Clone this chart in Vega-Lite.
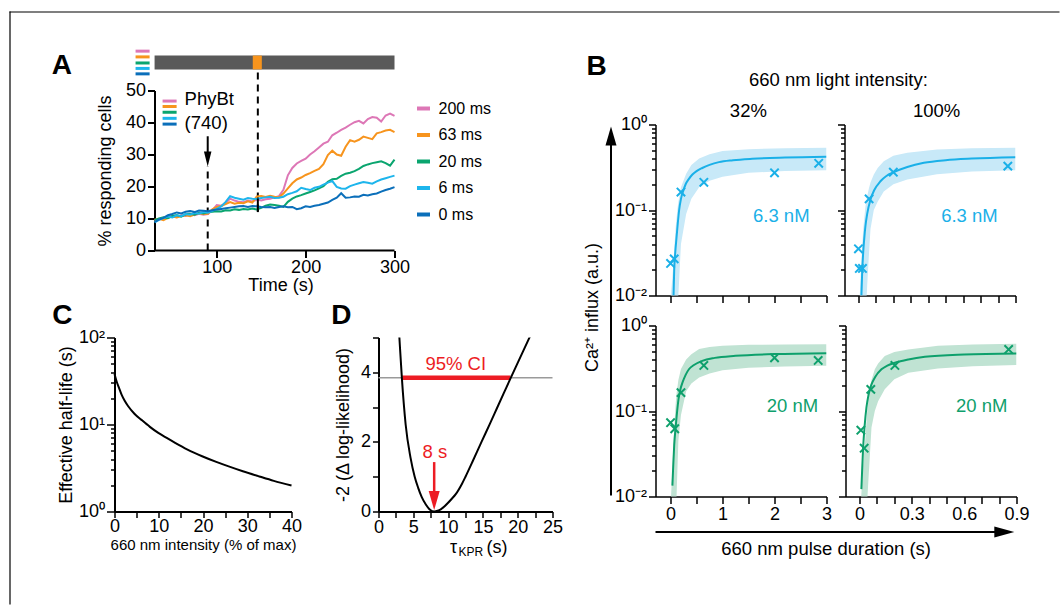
{
"$schema": "https://vega.github.io/schema/vega-lite/v6.json",
"padding": {"left": 8.5, "top": 10.5, "right": 0, "bottom": 0},
"config": {
  "font": "Liberation Sans",
  "view": {"stroke": null},
  "axis": {"grid": false, "domainColor": "black", "domainWidth": 1.5, "tickColor": "black", "tickWidth": 1.5, "labelColor": "black", "titleColor": "black", "labelFontSize": 18, "titleFontSize": 18, "titleFontWeight": "normal", "labelFlush": false, "labelOverlap": false, "labelPadding": 2, "tickSize": 6, "labelFont": "Liberation Sans", "titleFont": "Liberation Sans"},
  "legend": {"labelFont": "Liberation Sans"},
  "text": {"font": "Liberation Sans"}
},
"datasets": {
  "ser": [
{"s":"200 ms","t":30,"v":9.3},{"s":"200 ms","t":35,"v":9.8},{"s":"200 ms","t":40,"v":10.2},{"s":"200 ms","t":45,"v":10.5},{"s":"200 ms","t":50,"v":10.9},{"s":"200 ms","t":55,"v":10.4},{"s":"200 ms","t":60,"v":11.0},{"s":"200 ms","t":65,"v":10.8},{"s":"200 ms","t":70,"v":11.3},{"s":"200 ms","t":75,"v":11.0},{"s":"200 ms","t":80,"v":11.5},{"s":"200 ms","t":85,"v":11.2},{"s":"200 ms","t":90,"v":11.4},{"s":"200 ms","t":95,"v":12.6},{"s":"200 ms","t":100,"v":14.2},{"s":"200 ms","t":105,"v":14.0},{"s":"200 ms","t":110,"v":14.8},{"s":"200 ms","t":115,"v":16.2},{"s":"200 ms","t":120,"v":15.6},{"s":"200 ms","t":125,"v":15.2},{"s":"200 ms","t":130,"v":15.1},{"s":"200 ms","t":135,"v":15.6},{"s":"200 ms","t":140,"v":15.3},{"s":"200 ms","t":145,"v":15.9},{"s":"200 ms","t":150,"v":15.6},{"s":"200 ms","t":155,"v":16.0},{"s":"200 ms","t":160,"v":16.2},{"s":"200 ms","t":165,"v":16.6},{"s":"200 ms","t":170,"v":17.0},{"s":"200 ms","t":175,"v":19.0},{"s":"200 ms","t":180,"v":23.5},{"s":"200 ms","t":185,"v":25.8},{"s":"200 ms","t":190,"v":27.2},{"s":"200 ms","t":195,"v":28.0},{"s":"200 ms","t":200,"v":28.7},{"s":"200 ms","t":205,"v":30.0},{"s":"200 ms","t":210,"v":31.0},{"s":"200 ms","t":215,"v":32.2},{"s":"200 ms","t":220,"v":33.4},{"s":"200 ms","t":225,"v":34.0},{"s":"200 ms","t":230,"v":36.0},{"s":"200 ms","t":235,"v":36.8},{"s":"200 ms","t":240,"v":37.7},{"s":"200 ms","t":245,"v":38.4},{"s":"200 ms","t":250,"v":39.3},{"s":"200 ms","t":255,"v":40.1},{"s":"200 ms","t":260,"v":40.5},{"s":"200 ms","t":265,"v":39.7},{"s":"200 ms","t":270,"v":41.1},{"s":"200 ms","t":275,"v":41.7},{"s":"200 ms","t":280,"v":41.5},{"s":"200 ms","t":285,"v":40.3},{"s":"200 ms","t":290,"v":42.2},{"s":"200 ms","t":295,"v":42.8},{"s":"200 ms","t":300,"v":42.1},
{"s":"63 ms","t":30,"v":9.6},{"s":"63 ms","t":35,"v":9.9},{"s":"63 ms","t":40,"v":9.5},{"s":"63 ms","t":45,"v":10.2},{"s":"63 ms","t":50,"v":10.6},{"s":"63 ms","t":55,"v":10.3},{"s":"63 ms","t":60,"v":10.8},{"s":"63 ms","t":65,"v":11.0},{"s":"63 ms","t":70,"v":10.7},{"s":"63 ms","t":75,"v":11.2},{"s":"63 ms","t":80,"v":11.6},{"s":"63 ms","t":85,"v":11.4},{"s":"63 ms","t":90,"v":11.5},{"s":"63 ms","t":95,"v":12.9},{"s":"63 ms","t":100,"v":13.6},{"s":"63 ms","t":105,"v":13.9},{"s":"63 ms","t":110,"v":14.5},{"s":"63 ms","t":115,"v":15.1},{"s":"63 ms","t":120,"v":14.6},{"s":"63 ms","t":125,"v":14.9},{"s":"63 ms","t":130,"v":14.8},{"s":"63 ms","t":135,"v":15.4},{"s":"63 ms","t":140,"v":15.0},{"s":"63 ms","t":145,"v":16.9},{"s":"63 ms","t":150,"v":17.0},{"s":"63 ms","t":155,"v":16.7},{"s":"63 ms","t":160,"v":17.1},{"s":"63 ms","t":165,"v":16.8},{"s":"63 ms","t":170,"v":16.6},{"s":"63 ms","t":175,"v":17.8},{"s":"63 ms","t":180,"v":19.4},{"s":"63 ms","t":185,"v":21.0},{"s":"63 ms","t":190,"v":22.2},{"s":"63 ms","t":195,"v":22.8},{"s":"63 ms","t":200,"v":23.6},{"s":"63 ms","t":205,"v":24.2},{"s":"63 ms","t":210,"v":24.9},{"s":"63 ms","t":215,"v":25.5},{"s":"63 ms","t":220,"v":27.0},{"s":"63 ms","t":225,"v":29.8},{"s":"63 ms","t":230,"v":31.2},{"s":"63 ms","t":235,"v":30.0},{"s":"63 ms","t":240,"v":29.6},{"s":"63 ms","t":245,"v":32.4},{"s":"63 ms","t":250,"v":34.5},{"s":"63 ms","t":255,"v":34.0},{"s":"63 ms","t":260,"v":34.6},{"s":"63 ms","t":265,"v":35.6},{"s":"63 ms","t":270,"v":35.2},{"s":"63 ms","t":275,"v":34.8},{"s":"63 ms","t":280,"v":36.6},{"s":"63 ms","t":285,"v":37.0},{"s":"63 ms","t":290,"v":37.5},{"s":"63 ms","t":295,"v":37.7},{"s":"63 ms","t":300,"v":37.0},
{"s":"20 ms","t":30,"v":9.5},{"s":"20 ms","t":35,"v":10.0},{"s":"20 ms","t":40,"v":10.4},{"s":"20 ms","t":45,"v":10.1},{"s":"20 ms","t":50,"v":10.8},{"s":"20 ms","t":55,"v":11.1},{"s":"20 ms","t":60,"v":10.6},{"s":"20 ms","t":65,"v":11.3},{"s":"20 ms","t":70,"v":11.5},{"s":"20 ms","t":75,"v":11.2},{"s":"20 ms","t":80,"v":11.8},{"s":"20 ms","t":85,"v":11.6},{"s":"20 ms","t":90,"v":12.0},{"s":"20 ms","t":95,"v":12.1},{"s":"20 ms","t":100,"v":12.3},{"s":"20 ms","t":105,"v":12.2},{"s":"20 ms","t":110,"v":12.6},{"s":"20 ms","t":115,"v":12.5},{"s":"20 ms","t":120,"v":12.9},{"s":"20 ms","t":125,"v":12.7},{"s":"20 ms","t":130,"v":13.0},{"s":"20 ms","t":135,"v":12.8},{"s":"20 ms","t":140,"v":13.1},{"s":"20 ms","t":145,"v":12.8},{"s":"20 ms","t":150,"v":13.3},{"s":"20 ms","t":155,"v":14.0},{"s":"20 ms","t":160,"v":14.4},{"s":"20 ms","t":165,"v":14.2},{"s":"20 ms","t":170,"v":14.0},{"s":"20 ms","t":175,"v":13.6},{"s":"20 ms","t":180,"v":15.2},{"s":"20 ms","t":185,"v":16.2},{"s":"20 ms","t":190,"v":16.9},{"s":"20 ms","t":195,"v":17.3},{"s":"20 ms","t":200,"v":17.8},{"s":"20 ms","t":205,"v":18.3},{"s":"20 ms","t":210,"v":18.8},{"s":"20 ms","t":215,"v":19.4},{"s":"20 ms","t":220,"v":20.1},{"s":"20 ms","t":225,"v":21.5},{"s":"20 ms","t":230,"v":22.3},{"s":"20 ms","t":235,"v":22.4},{"s":"20 ms","t":240,"v":23.3},{"s":"20 ms","t":245,"v":24.0},{"s":"20 ms","t":250,"v":24.3},{"s":"20 ms","t":255,"v":24.8},{"s":"20 ms","t":260,"v":25.5},{"s":"20 ms","t":265,"v":26.4},{"s":"20 ms","t":270,"v":26.9},{"s":"20 ms","t":275,"v":27.3},{"s":"20 ms","t":280,"v":27.6},{"s":"20 ms","t":285,"v":27.9},{"s":"20 ms","t":290,"v":27.3},{"s":"20 ms","t":295,"v":26.5},{"s":"20 ms","t":300,"v":28.4},
{"s":"6 ms","t":30,"v":8.8},{"s":"6 ms","t":35,"v":9.6},{"s":"6 ms","t":40,"v":10.1},{"s":"6 ms","t":45,"v":10.6},{"s":"6 ms","t":50,"v":10.3},{"s":"6 ms","t":55,"v":11.0},{"s":"6 ms","t":60,"v":10.7},{"s":"6 ms","t":65,"v":11.4},{"s":"6 ms","t":70,"v":11.2},{"s":"6 ms","t":75,"v":11.7},{"s":"6 ms","t":80,"v":11.5},{"s":"6 ms","t":85,"v":12.0},{"s":"6 ms","t":90,"v":11.8},{"s":"6 ms","t":95,"v":12.4},{"s":"6 ms","t":100,"v":13.0},{"s":"6 ms","t":105,"v":13.8},{"s":"6 ms","t":110,"v":15.2},{"s":"6 ms","t":115,"v":17.0},{"s":"6 ms","t":120,"v":16.5},{"s":"6 ms","t":125,"v":16.2},{"s":"6 ms","t":130,"v":15.9},{"s":"6 ms","t":135,"v":16.4},{"s":"6 ms","t":140,"v":16.2},{"s":"6 ms","t":145,"v":16.1},{"s":"6 ms","t":150,"v":16.4},{"s":"6 ms","t":155,"v":16.6},{"s":"6 ms","t":160,"v":16.8},{"s":"6 ms","t":165,"v":16.4},{"s":"6 ms","t":170,"v":16.5},{"s":"6 ms","t":175,"v":16.8},{"s":"6 ms","t":180,"v":17.6},{"s":"6 ms","t":185,"v":18.0},{"s":"6 ms","t":190,"v":18.5},{"s":"6 ms","t":195,"v":19.6},{"s":"6 ms","t":200,"v":19.2},{"s":"6 ms","t":205,"v":18.9},{"s":"6 ms","t":210,"v":19.6},{"s":"6 ms","t":215,"v":19.9},{"s":"6 ms","t":220,"v":20.6},{"s":"6 ms","t":225,"v":21.2},{"s":"6 ms","t":230,"v":21.7},{"s":"6 ms","t":235,"v":19.9},{"s":"6 ms","t":240,"v":19.4},{"s":"6 ms","t":245,"v":19.3},{"s":"6 ms","t":250,"v":20.1},{"s":"6 ms","t":255,"v":20.6},{"s":"6 ms","t":260,"v":21.0},{"s":"6 ms","t":265,"v":21.4},{"s":"6 ms","t":270,"v":21.2},{"s":"6 ms","t":275,"v":20.9},{"s":"6 ms","t":280,"v":21.6},{"s":"6 ms","t":285,"v":22.2},{"s":"6 ms","t":290,"v":22.6},{"s":"6 ms","t":295,"v":23.0},{"s":"6 ms","t":300,"v":23.4},
{"s":"0 ms","t":30,"v":8.9},{"s":"0 ms","t":35,"v":9.7},{"s":"0 ms","t":40,"v":10.2},{"s":"0 ms","t":45,"v":11.0},{"s":"0 ms","t":50,"v":11.4},{"s":"0 ms","t":55,"v":11.9},{"s":"0 ms","t":60,"v":11.6},{"s":"0 ms","t":65,"v":12.1},{"s":"0 ms","t":70,"v":12.3},{"s":"0 ms","t":75,"v":12.0},{"s":"0 ms","t":80,"v":12.5},{"s":"0 ms","t":85,"v":12.4},{"s":"0 ms","t":90,"v":12.3},{"s":"0 ms","t":95,"v":12.6},{"s":"0 ms","t":100,"v":12.8},{"s":"0 ms","t":105,"v":13.0},{"s":"0 ms","t":110,"v":13.2},{"s":"0 ms","t":115,"v":13.4},{"s":"0 ms","t":120,"v":13.6},{"s":"0 ms","t":125,"v":13.8},{"s":"0 ms","t":130,"v":13.9},{"s":"0 ms","t":135,"v":13.6},{"s":"0 ms","t":140,"v":13.9},{"s":"0 ms","t":145,"v":13.8},{"s":"0 ms","t":150,"v":13.6},{"s":"0 ms","t":155,"v":13.5},{"s":"0 ms","t":160,"v":13.6},{"s":"0 ms","t":165,"v":13.3},{"s":"0 ms","t":170,"v":13.6},{"s":"0 ms","t":175,"v":13.8},{"s":"0 ms","t":180,"v":13.5},{"s":"0 ms","t":185,"v":13.6},{"s":"0 ms","t":190,"v":12.9},{"s":"0 ms","t":195,"v":13.2},{"s":"0 ms","t":200,"v":13.8},{"s":"0 ms","t":205,"v":13.6},{"s":"0 ms","t":210,"v":14.0},{"s":"0 ms","t":215,"v":14.2},{"s":"0 ms","t":220,"v":14.6},{"s":"0 ms","t":225,"v":15.0},{"s":"0 ms","t":230,"v":15.8},{"s":"0 ms","t":235,"v":16.5},{"s":"0 ms","t":240,"v":17.9},{"s":"0 ms","t":245,"v":16.5},{"s":"0 ms","t":250,"v":16.6},{"s":"0 ms","t":255,"v":16.9},{"s":"0 ms","t":260,"v":16.8},{"s":"0 ms","t":265,"v":17.4},{"s":"0 ms","t":270,"v":17.2},{"s":"0 ms","t":275,"v":17.6},{"s":"0 ms","t":280,"v":17.8},{"s":"0 ms","t":285,"v":18.4},{"s":"0 ms","t":290,"v":18.9},{"s":"0 ms","t":295,"v":19.3},{"s":"0 ms","t":300,"v":19.8}
  ],
  "stk": [
{"s":"200 ms","a":8.6,"b":24.4,"v":62.3},{"s":"63 ms","a":8.6,"b":24.4,"v":60.5},{"s":"20 ms","a":8.6,"b":24.4,"v":58.6},{"s":"6 ms","a":8.6,"b":24.4,"v":56.9},{"s":"0 ms","a":8.6,"b":24.4,"v":55.2},
{"s":"200 ms","a":39,"b":54.8,"v":46.7},{"s":"63 ms","a":39,"b":54.8,"v":45.0},{"s":"20 ms","a":39,"b":54.8,"v":43.2},{"s":"6 ms","a":39,"b":54.8,"v":41.3},{"s":"0 ms","a":39,"b":54.8,"v":39.5}
  ],
  "bpts": [
{"p":"TL","x":0.0,"y":0.0237},{"p":"TL","x":0.07,"y":0.0268},{"p":"TL","x":0.2,"y":0.162},{"p":"TL","x":0.64,"y":0.211},{"p":"TL","x":2.0,"y":0.272},{"p":"TL","x":2.85,"y":0.352},
{"p":"TR","x":0.0,"y":0.0352},{"p":"TR","x":0.005,"y":0.0207},{"p":"TR","x":0.023,"y":0.0207},{"p":"TR","x":0.061,"y":0.135},{"p":"TR","x":0.2,"y":0.277},{"p":"TR","x":0.856,"y":0.326},
{"p":"BL","x":0.0,"y":0.073},{"p":"BL","x":0.08,"y":0.062},{"p":"BL","x":0.2,"y":0.164},{"p":"BL","x":0.64,"y":0.341},{"p":"BL","x":2.0,"y":0.419},{"p":"BL","x":2.84,"y":0.39},
{"p":"BR","x":0.008,"y":0.0596},{"p":"BR","x":0.027,"y":0.0367},{"p":"BR","x":0.065,"y":0.179},{"p":"BR","x":0.203,"y":0.341},{"p":"BR","x":0.855,"y":0.525}
  ],
  "bfit": [
{"p":"TL","x":0.057,"y":0.01},{"p":"TL","x":0.07,"y":0.02},{"p":"TL","x":0.085,"y":0.029},{"p":"TL","x":0.1,"y":0.038},{"p":"TL","x":0.134,"y":0.065},{"p":"TL","x":0.165,"y":0.1},{"p":"TL","x":0.2,"y":0.135},{"p":"TL","x":0.25,"y":0.172},{"p":"TL","x":0.29,"y":0.2},{"p":"TL","x":0.35,"y":0.23},{"p":"TL","x":0.42,"y":0.26},{"p":"TL","x":0.5,"y":0.285},{"p":"TL","x":0.61,"y":0.31},{"p":"TL","x":0.75,"y":0.337},{"p":"TL","x":0.93,"y":0.363},{"p":"TL","x":1.2,"y":0.382},{"p":"TL","x":1.57,"y":0.397},{"p":"TL","x":2.2,"y":0.41},{"p":"TL","x":3.0,"y":0.419},
{"p":"TR","x":0.017,"y":0.01},{"p":"TR","x":0.021,"y":0.018},{"p":"TR","x":0.027,"y":0.0316},{"p":"TR","x":0.033,"y":0.046},{"p":"TR","x":0.04,"y":0.065},{"p":"TR","x":0.05,"y":0.09},{"p":"TR","x":0.069,"y":0.133},{"p":"TR","x":0.09,"y":0.17},{"p":"TR","x":0.126,"y":0.217},{"p":"TR","x":0.16,"y":0.25},{"p":"TR","x":0.203,"y":0.277},{"p":"TR","x":0.28,"y":0.318},{"p":"TR","x":0.375,"y":0.356},{"p":"TR","x":0.5,"y":0.383},{"p":"TR","x":0.65,"y":0.4},{"p":"TR","x":0.9,"y":0.415},
{"p":"BL","x":0.035,"y":0.0134},{"p":"BL","x":0.05,"y":0.022},{"p":"BL","x":0.07,"y":0.04},{"p":"BL","x":0.1,"y":0.067},{"p":"BL","x":0.153,"y":0.138},{"p":"BL","x":0.19,"y":0.18},{"p":"BL","x":0.23,"y":0.216},{"p":"BL","x":0.29,"y":0.265},{"p":"BL","x":0.357,"y":0.31},{"p":"BL","x":0.45,"y":0.345},{"p":"BL","x":0.61,"y":0.386},{"p":"BL","x":0.85,"y":0.418},{"p":"BL","x":1.25,"y":0.442},{"p":"BL","x":2.0,"y":0.463},{"p":"BL","x":3.0,"y":0.475},
{"p":"BR","x":0.011,"y":0.0122},{"p":"BR","x":0.016,"y":0.022},{"p":"BR","x":0.021,"y":0.037},{"p":"BR","x":0.03,"y":0.068},{"p":"BR","x":0.04,"y":0.11},{"p":"BR","x":0.052,"y":0.155},{"p":"BR","x":0.069,"y":0.205},{"p":"BR","x":0.09,"y":0.25},{"p":"BR","x":0.126,"y":0.307},{"p":"BR","x":0.16,"y":0.34},{"p":"BR","x":0.203,"y":0.366},{"p":"BR","x":0.28,"y":0.4},{"p":"BR","x":0.375,"y":0.43},{"p":"BR","x":0.6,"y":0.458},{"p":"BR","x":0.9,"y":0.471}
  ],
  "bband": [
{"p":"TL","x":0.0,"lo":0.0005,"hi":0.0095},{"p":"TL","x":0.03,"lo":0.0008,"hi":0.015},{"p":"TL","x":0.05,"lo":0.001,"hi":0.022},{"p":"TL","x":0.07,"lo":0.0015,"hi":0.035},{"p":"TL","x":0.1,"lo":0.003,"hi":0.065},{"p":"TL","x":0.13,"lo":0.006,"hi":0.1},{"p":"TL","x":0.15,"lo":0.01,"hi":0.125},{"p":"TL","x":0.2,"lo":0.04,"hi":0.185},{"p":"TL","x":0.3,"lo":0.09,"hi":0.265},{"p":"TL","x":0.4,"lo":0.135,"hi":0.335},{"p":"TL","x":0.55,"lo":0.185,"hi":0.4},{"p":"TL","x":0.75,"lo":0.22,"hi":0.45},{"p":"TL","x":1.0,"lo":0.245,"hi":0.49},{"p":"TL","x":1.5,"lo":0.272,"hi":0.515},{"p":"TL","x":2.2,"lo":0.285,"hi":0.528},{"p":"TL","x":3.0,"lo":0.292,"hi":0.535},
{"p":"TR","x":0.0,"lo":0.0005,"hi":0.006},{"p":"TR","x":0.0075,"lo":0.0007,"hi":0.01},{"p":"TR","x":0.015,"lo":0.001,"hi":0.022},{"p":"TR","x":0.027,"lo":0.002,"hi":0.059},{"p":"TR","x":0.04,"lo":0.005,"hi":0.11},{"p":"TR","x":0.05,"lo":0.013,"hi":0.145},{"p":"TR","x":0.06,"lo":0.03,"hi":0.18},{"p":"TR","x":0.069,"lo":0.06,"hi":0.21},{"p":"TR","x":0.088,"lo":0.1,"hi":0.26},{"p":"TR","x":0.11,"lo":0.125,"hi":0.31},{"p":"TR","x":0.145,"lo":0.165,"hi":0.372},{"p":"TR","x":0.2,"lo":0.2,"hi":0.43},{"p":"TR","x":0.28,"lo":0.227,"hi":0.466},{"p":"TR","x":0.45,"lo":0.262,"hi":0.51},{"p":"TR","x":0.65,"lo":0.282,"hi":0.527},{"p":"TR","x":0.9,"lo":0.292,"hi":0.533},
{"p":"BL","x":0.0,"lo":0.0005,"hi":0.008},{"p":"BL","x":0.03,"lo":0.0008,"hi":0.018},{"p":"BL","x":0.05,"lo":0.001,"hi":0.035},{"p":"BL","x":0.07,"lo":0.002,"hi":0.065},{"p":"BL","x":0.1,"lo":0.004,"hi":0.126},{"p":"BL","x":0.115,"lo":0.01,"hi":0.16},{"p":"BL","x":0.15,"lo":0.045,"hi":0.23},{"p":"BL","x":0.2,"lo":0.09,"hi":0.31},{"p":"BL","x":0.3,"lo":0.17,"hi":0.4},{"p":"BL","x":0.4,"lo":0.21,"hi":0.46},{"p":"BL","x":0.55,"lo":0.247,"hi":0.53},{"p":"BL","x":0.75,"lo":0.275,"hi":0.56},{"p":"BL","x":1.0,"lo":0.3,"hi":0.58},{"p":"BL","x":1.5,"lo":0.32,"hi":0.595},{"p":"BL","x":2.2,"lo":0.332,"hi":0.6},{"p":"BL","x":3.0,"lo":0.338,"hi":0.605},
{"p":"BR","x":0.0,"lo":0.0005,"hi":0.006},{"p":"BR","x":0.01,"lo":0.0007,"hi":0.01},{"p":"BR","x":0.02,"lo":0.001,"hi":0.022},{"p":"BR","x":0.034,"lo":0.003,"hi":0.049},{"p":"BR","x":0.046,"lo":0.01,"hi":0.11},{"p":"BR","x":0.05,"lo":0.014,"hi":0.143},{"p":"BR","x":0.069,"lo":0.064,"hi":0.23},{"p":"BR","x":0.088,"lo":0.1,"hi":0.307},{"p":"BR","x":0.107,"lo":0.13,"hi":0.36},{"p":"BR","x":0.145,"lo":0.18,"hi":0.44},{"p":"BR","x":0.2,"lo":0.235,"hi":0.49},{"p":"BR","x":0.28,"lo":0.28,"hi":0.525},{"p":"BR","x":0.45,"lo":0.315,"hi":0.58},{"p":"BR","x":0.65,"lo":0.333,"hi":0.6},{"p":"BR","x":0.9,"lo":0.344,"hi":0.61}
  ],
  "ccurve": [
{"x":0,"y":38},{"x":0.5,"y":31},{"x":1,"y":26.5},{"x":1.6,"y":22},{"x":2.3,"y":18.7},{"x":3.1,"y":16.2},{"x":4.5,"y":13.3},{"x":6.1,"y":11.3},{"x":8,"y":9.4},{"x":9.9,"y":8.0},{"x":11.8,"y":7.0},{"x":13.7,"y":6.15},{"x":16.5,"y":5.15},{"x":19.8,"y":4.32},{"x":23,"y":3.72},{"x":25.8,"y":3.3},{"x":29,"y":2.9},{"x":32.7,"y":2.53},{"x":36,"y":2.25},{"x":40,"y":1.99}
  ],
  "dcurve": [
{"x":2.85,"y":5.5},{"x":3.0,"y":5.0},{"x":3.35,"y":3.86},{"x":3.9,"y":2.5},{"x":4.6,"y":1.55},{"x":5.2,"y":1.0},{"x":5.7,"y":0.68},{"x":6.2,"y":0.42},{"x":6.8,"y":0.2},{"x":7.4,"y":0.05},{"x":8.0,"y":0.0},{"x":8.5,"y":0.02},{"x":9.0,"y":0.07},{"x":9.5,"y":0.15},{"x":10.0,"y":0.25},{"x":10.5,"y":0.36},{"x":11.1,"y":0.5},{"x":12.0,"y":0.8},{"x":12.5,"y":1.0},{"x":13.5,"y":1.43},{"x":14.8,"y":2.0},{"x":16.0,"y":2.52},{"x":17.0,"y":2.96},{"x":18.0,"y":3.4},{"x":19.0,"y":3.84},{"x":20.0,"y":4.27},{"x":21.0,"y":4.7},{"x":22.0,"y":5.13}
  ]
},
"spacing": -3,
"vconcat": [
 {"width": 1050, "height": 1, "layer": [
   {"data": {"values": [{}]}, "mark": {"type": "rule", "strokeWidth": 1.2, "color": "black"},
    "encoding": {"x": {"datum": 0, "type": "quantitative", "scale": {"domain": [0, 1], "nice": false}, "axis": null}, "x2": {"datum": 1},
                 "y": {"datum": 0.5, "type": "quantitative", "scale": {"domain": [0, 1], "nice": false}, "axis": null}}}
 ]},
 {"spacing": 40, "hconcat": [
  {"width": 1, "height": 514, "layer": [
    {"data": {"values": [{}]}, "mark": {"type": "rule", "strokeWidth": 1.2, "color": "black"},
     "encoding": {"x": {"datum": 0.5, "type": "quantitative", "scale": {"domain": [0, 1], "nice": false}, "axis": null},
                  "y": {"datum": 0, "type": "quantitative", "scale": {"domain": [0, 1], "nice": false}, "axis": null}, "y2": {"datum": 1.1537}}}
  ]},
  {"spacing": -4, "hconcat": [
  {"spacing": 7, "vconcat": [
    {"width": 280, "height": 160, "layer": [
      {"data": {"values": [{"a":30,"b":300,"k":"bg"},{"a":140.5,"b":150.7,"k":"pulse"}]},
       "mark": {"type": "rect"},
       "encoding": {
         "x": {"field": "a", "type": "quantitative", "scale": {"domain": [-15.1, 300], "nice": false, "zero": false},
               "axis": {"values": [100,200,300], "tickCount": 100, "labelOverlap": false, "labelExpr": "format(datum.value, 'd')", "domain": false, "tickSize": 7, "tickWidth": 2, "labelPadding": 1, "title": "Time (s)", "titleX": 166, "titlePadding": 0}},
         "x2": {"field": "b"},
         "y": {"datum": 56.6, "type": "quantitative", "scale": {"domain": [0, 50], "nice": false},
               "axis": {"values": [0,10,20,30,40,50], "tickCount": 100, "labelOverlap": false, "labelExpr": "format(datum.value, 'd')", "offset": -40, "tickSize": 7, "tickWidth": 2, "domainWidth": 2, "title": "% responding cells", "titlePadding": 11}},
         "y2": {"datum": 60.9},
         "color": {"condition": {"test": "datum.k == 'pulse'", "value": "#f7941d"}, "value": "#595959"}
       }},
      {"data": {"values": [{}]}, "mark": {"type": "rule", "strokeWidth": 2, "color": "black"},
       "encoding": {"x": {"datum": 30, "type": "quantitative"}, "x2": {"datum": 300}, "y": {"datum": 0, "type": "quantitative"}}},
      {"data": {"values": [{}]}, "mark": {"type": "rule", "strokeWidth": 2, "color": "black", "strokeDash": [7, 5]},
       "encoding": {"x": {"datum": 146.2, "type": "quantitative"}, "y": {"datum": 12.2, "type": "quantitative"}, "y2": {"datum": 56.6}}},
      {"data": {"values": [{}]}, "mark": {"type": "rule", "strokeWidth": 2, "color": "black", "strokeDash": [7, 5]},
       "encoding": {"x": {"datum": 89.8, "type": "quantitative"}, "y": {"datum": 0, "type": "quantitative"}, "y2": {"datum": 26.3}}},
      {"data": {"name": "stk"}, "mark": {"type": "rule", "strokeWidth": 3},
       "encoding": {"x": {"field": "a", "type": "quantitative"}, "x2": {"field": "b"}, "y": {"field": "v", "type": "quantitative"},
                    "color": {"field": "s", "type": "nominal"}}},
      {"data": {"name": "ser"}, "mark": {"type": "line", "strokeWidth": 2},
       "encoding": {"x": {"field": "t", "type": "quantitative"}, "y": {"field": "v", "type": "quantitative"},
                    "color": {"field": "s", "type": "nominal", "sort": null,
                              "scale": {"domain": ["200 ms","63 ms","20 ms","6 ms","0 ms"], "range": ["#dd77b6","#f7941d","#0aa56f","#1db5ec","#0b6fba"]},
                              "legend": {"orient": "none", "legendX": 405, "legendY": 88, "title": null, "symbolType": "stroke", "symbolStrokeWidth": 4, "symbolSize": 170, "labelFontSize": 16, "rowPadding": 9.5, "labelOffset": 6, "symbolOpacity": 1}}}},
      {"data": {"values": [{}]}, "mark": {"type": "rule", "strokeWidth": 2, "color": "black"},
       "encoding": {"x": {"datum": 146.2, "type": "quantitative"}, "y": {"datum": 12.0, "type": "quantitative"}, "y2": {"datum": 16.3}}},
      {"data": {"values": [{}]}, "mark": {"type": "rule", "strokeWidth": 2, "color": "black"},
       "encoding": {"x": {"datum": 89.8, "type": "quantitative"}, "y": {"datum": 29.5, "type": "quantitative"}, "y2": {"datum": 35.7}}},
      {"data": {"values": [{}]}, "mark": {"type": "point", "shape": "M-0.5,-1L0.5,-1L0,1Z", "size": 225, "filled": true, "color": "black", "opacity": 1},
       "encoding": {"x": {"datum": 89.8, "type": "quantitative"}, "y": {"datum": 28.6, "type": "quantitative"}}},
      {"data": {"values": [{}]}, "mark": {"type": "text", "text": "PhyBt", "fontSize": 18.5, "align": "left", "baseline": "middle"},
       "encoding": {"x": {"datum": 63.8, "type": "quantitative"}, "y": {"datum": 47.5, "type": "quantitative"}}},
      {"data": {"values": [{}]}, "mark": {"type": "text", "text": "(740)", "fontSize": 18.5, "align": "left", "baseline": "middle"},
       "encoding": {"x": {"datum": 63.8, "type": "quantitative"}, "y": {"datum": 39.8, "type": "quantitative"}}},
      {"data": {"values": [{}]}, "mark": {"type": "text", "text": "A", "fontSize": 28, "fontWeight": "bold", "align": "center", "baseline": "middle"},
       "encoding": {"x": {"datum": -74.3, "type": "quantitative"}, "y": {"datum": 57.8, "type": "quantitative"}}}
    ]},
    {"spacing": 28, "hconcat": [
      {"width": 177, "height": 174, "layer": [
        {"data": {"name": "ccurve"}, "mark": {"type": "line", "color": "black", "strokeWidth": 2, "interpolate": "monotone"},
         "encoding": {
           "x": {"field": "x", "type": "quantitative", "scale": {"domain": [0, 40], "nice": false},
                 "axis": {"values": [0,5,10,15,20,25,30,35,40], "tickCount": 100, "labelOverlap": false, "labelExpr": "datum.value % 10 == 0 ? format(datum.value, 'd') : ''", "tickSize": 6, "tickWidth": 1.5, "domainWidth": 2, "labelPadding": 0, "title": "660 nm intensity (% of max)", "titleFontSize": 15, "titlePadding": 2}},
           "y": {"field": "y", "type": "quantitative", "scale": {"type": "log", "domain": [1, 100], "nice": false},
                 "axis": {"values": [1,2,3,4,5,6,7,8,9,10,20,30,40,50,60,70,80,90,100], "tickCount": 100, "labelOverlap": false, "labelExpr": "datum.value == 1 ? '10⁰' : datum.value == 10 ? '10¹' : datum.value == 100 ? '10²' : ''",
                          "tickSize": {"condition": {"test": "datum.value == 1 || datum.value == 10 || datum.value == 100", "value": 8}, "value": 4},
                          "domainWidth": 2, "title": "Effective half-life (s)", "titlePadding": 3}}
         }},
        {"data": {"values": [{}]}, "mark": {"type": "text", "text": "C", "fontSize": 28, "fontWeight": "bold", "align": "center", "baseline": "middle"},
         "encoding": {"x": {"datum": -11.8, "type": "quantitative"}, "y": {"datum": 176, "type": "quantitative"}}}
      ]},
      {"width": 174, "height": 174, "layer": [
        {"data": {"values": [{}]}, "mark": {"type": "rule", "color": "#9a9a9a", "strokeWidth": 1.5},
         "encoding": {
           "x": {"datum": 0, "type": "quantitative", "scale": {"domain": [0, 25], "nice": false},
                 "axis": {"values": [0,2.5,5,7.5,10,12.5,15,17.5,20,22.5,25], "tickCount": 100, "labelOverlap": false, "labelExpr": "datum.value % 5 == 0 ? format(datum.value, 'd') : ''", "tickSize": 6, "domainWidth": 2, "labelPadding": 1, "title": null}},
           "x2": {"datum": 25},
           "y": {"datum": 3.84, "type": "quantitative", "scale": {"domain": [0, 5], "nice": false},
                 "axis": {"values": [0,1,2,3,4,5], "tickCount": 100, "labelOverlap": false, "labelExpr": "datum.value % 2 == 0 ? format(datum.value, 'd') : ''", "tickSize": 6, "domainWidth": 2, "title": "-2 (Δ log-likelihood)", "titlePadding": 8}}
         }},
        {"data": {"values": [{}]}, "mark": {"type": "rule", "color": "#ed1c24", "strokeWidth": 4.5},
         "encoding": {"x": {"datum": 3.4, "type": "quantitative"}, "x2": {"datum": 18.95}, "y": {"datum": 3.84, "type": "quantitative"}}},
        {"data": {"name": "dcurve"}, "mark": {"type": "line", "color": "black", "strokeWidth": 2, "clip": true, "interpolate": "monotone"},
         "encoding": {"x": {"field": "x", "type": "quantitative"}, "y": {"field": "y", "type": "quantitative"}}},
        {"data": {"values": [{}]}, "mark": {"type": "text", "text": "95% CI", "fontSize": 18.5, "color": "#ed1c24", "align": "center", "baseline": "middle"},
         "encoding": {"x": {"datum": 11.1, "type": "quantitative"}, "y": {"datum": 4.25, "type": "quantitative"}}},
        {"data": {"values": [{}]}, "mark": {"type": "text", "text": "8 s", "fontSize": 18.5, "color": "#ed1c24", "align": "center", "baseline": "middle"},
         "encoding": {"x": {"datum": 8.1, "type": "quantitative"}, "y": {"datum": 1.72, "type": "quantitative"}}},
        {"data": {"values": [{}]}, "mark": {"type": "rule", "color": "#ed1c24", "strokeWidth": 2.5},
         "encoding": {"x": {"datum": 8, "type": "quantitative"}, "y": {"datum": 0.55, "type": "quantitative"}, "y2": {"datum": 1.42}}},
        {"data": {"values": [{}]}, "mark": {"type": "point", "shape": "M-0.58,-1L0.58,-1L0,1Z", "size": 361, "filled": true, "color": "#ed1c24", "opacity": 1},
         "encoding": {"x": {"datum": 8, "type": "quantitative"}, "y": {"datum": 0.313, "type": "quantitative"}}},
        {"data": {"values": [{}]}, "mark": {"type": "text", "text": "D", "fontSize": 28, "fontWeight": "bold", "align": "center", "baseline": "middle"},
         "encoding": {"x": {"datum": -5.32, "type": "quantitative"}, "y": {"datum": 5.61, "type": "quantitative"}}},
        {"data": {"values": [{}]}, "mark": {"type": "text", "text": "τ", "fontSize": 18, "align": "center", "baseline": "alphabetic"},
         "encoding": {"x": {"datum": 10.78, "type": "quantitative"}, "y": {"datum": -1.18, "type": "quantitative"}}},
        {"data": {"values": [{}]}, "mark": {"type": "text", "text": "KPR", "fontSize": 12, "align": "left", "baseline": "alphabetic"},
         "encoding": {"x": {"datum": 11.49, "type": "quantitative"}, "y": {"datum": -1.29, "type": "quantitative"}}},
        {"data": {"values": [{}]}, "mark": {"type": "text", "text": "(s)", "fontSize": 18, "align": "left", "baseline": "alphabetic"},
         "encoding": {"x": {"datum": 15.52, "type": "quantitative"}, "y": {"datum": -1.18, "type": "quantitative"}}}
      ]}
    ]}
  ]},
  {"width": 50, "height": 405, "layer": [
    {"data": {"values": [{}]}, "mark": {"type": "rule", "strokeWidth": 2, "color": "black"},
     "encoding": {"x": {"datum": 0.95, "type": "quantitative", "scale": {"domain": [0, 1], "nice": false}, "axis": null},
                  "y": {"datum": 0, "type": "quantitative", "scale": {"domain": [0, 1], "nice": false}, "axis": null},
                  "y2": {"datum": 0.87}}},
    {"data": {"values": [{}]}, "mark": {"type": "point", "shape": "M0,-1L0.58,1L-0.58,1Z", "size": 361, "filled": true, "color": "black", "opacity": 1},
     "encoding": {"x": {"datum": 0.95, "type": "quantitative"}, "y": {"datum": 0.8877, "type": "quantitative"}}},
    {"data": {"values": [{}]}, "mark": {"type": "text", "text": "Ca²⁺ influx (a.u.)", "angle": 270, "fontSize": 18, "align": "center", "baseline": "middle"},
     "encoding": {"x": {"datum": 0.58, "type": "quantitative"}, "y": {"datum": 0.464, "type": "quantitative"}}},
    {"data": {"values": [{}]}, "mark": {"type": "text", "text": "B", "fontSize": 28, "fontWeight": "bold", "align": "center", "baseline": "middle"},
     "encoding": {"x": {"datum": 0.66, "type": "quantitative"}, "y": {"datum": 1.057, "type": "quantitative"}}}
  ]},
  {"spacing": -5, "vconcat": [
    {"width": 360, "height": 20, "layer": [
      {"data": {"values": [{}]}, "mark": {"type": "text", "text": "660 nm light intensity:", "fontSize": 18.5, "align": "center", "baseline": "middle"},
       "encoding": {"x": {"datum": 0.508, "type": "quantitative", "scale": {"domain": [0, 1], "nice": false}, "axis": null},
                    "y": {"datum": 1.55, "type": "quantitative", "scale": {"domain": [0, 1], "nice": false}, "axis": null}}},
      {"data": {"values": [{}]}, "mark": {"type": "text", "text": "32%", "fontSize": 18.5, "align": "center", "baseline": "middle"},
       "encoding": {"x": {"datum": 0.258, "type": "quantitative"}, "y": {"datum": 0, "type": "quantitative"}}},
      {"data": {"values": [{}]}, "mark": {"type": "text", "text": "100%", "fontSize": 18.5, "align": "center", "baseline": "middle"},
       "encoding": {"x": {"datum": 0.781, "type": "quantitative"}, "y": {"datum": 0, "type": "quantitative"}}}
    ]},
    {"spacing": 3, "vconcat": [
      {"spacing": 12, "vconcat": [
        {"spacing": 9, "hconcat": [
          {"width": 171, "height": 171, "layer": [
            {"data": {"name": "bband"}, "transform": [{"filter": "datum.p == 'TL'"}], "mark": {"type": "area", "clip": true, "color": "#c8e9f8"},
             "encoding": {"x": {"field": "x", "type": "quantitative", "scale": {"domain": [-0.29, 3], "nice": false, "zero": false}, "axis": {"values": [0,0.5,1,1.5,2,2.5,3], "tickCount": 100, "labelOverlap": false, "labels": false, "tickSize": 7, "title": null}},
                          "y": {"field": "lo", "type": "quantitative", "scale": {"type": "log", "domain": [0.01, 1], "nice": false},
                                "axis": {"values": [0.01,0.02,0.03,0.04,0.05,0.06,0.07,0.08,0.09,0.1,0.2,0.3,0.4,0.5,0.6,0.7,0.8,0.9,1], "tickCount": 100, "labelOverlap": false, "labelExpr": "datum.value == 1 ? '10⁰' : datum.value == 0.1 ? '10⁻¹' : datum.value == 0.01 ? '10⁻²' : ''",
                                         "tickSize": {"condition": {"test": "datum.value == 1 || datum.value == 0.1 || datum.value == 0.01", "value": 7}, "value": 4}, "title": null}},
                          "y2": {"field": "hi"}}},
            {"data": {"name": "bfit"}, "transform": [{"filter": "datum.p == 'TL'"}], "mark": {"type": "line", "clip": true, "color": "#1ab0e8", "strokeWidth": 2, "interpolate": "monotone"},
             "encoding": {"x": {"field": "x", "type": "quantitative"}, "y": {"field": "y", "type": "quantitative"}}},
            {"data": {"name": "bpts"}, "transform": [{"filter": "datum.p == 'TL'"}], "mark": {"type": "point", "shape": "M-1,-1L1,1M-1,1L1,-1", "filled": false, "size": 70, "strokeWidth": 2, "color": "#1ab0e8", "opacity": 1},
             "encoding": {"x": {"field": "x", "type": "quantitative"}, "y": {"field": "y", "type": "quantitative"}}},
            {"data": {"values": [{}]}, "mark": {"type": "text", "text": "6.3 nM", "fontSize": 18.5, "color": "#1ab0e8", "align": "center", "baseline": "middle"},
             "encoding": {"x": {"datum": 2.13, "type": "quantitative"}, "y": {"datum": 0.0847, "type": "quantitative"}}}
          ]},
          {"width": 171, "height": 171, "layer": [
            {"data": {"name": "bband"}, "transform": [{"filter": "datum.p == 'TR'"}], "mark": {"type": "area", "clip": true, "color": "#c8e9f8"},
             "encoding": {"x": {"field": "x", "type": "quantitative", "scale": {"domain": [-0.08, 0.9], "nice": false, "zero": false}, "axis": {"values": [0,0.1,0.2,0.3,0.4,0.5,0.6,0.7,0.8,0.9], "tickCount": 100, "labelOverlap": false, "labels": false, "tickSize": 7, "title": null}},
                          "y": {"field": "lo", "type": "quantitative", "scale": {"type": "log", "domain": [0.01, 1], "nice": false},
                                "axis": {"values": [0.01,0.02,0.03,0.04,0.05,0.06,0.07,0.08,0.09,0.1,0.2,0.3,0.4,0.5,0.6,0.7,0.8,0.9,1], "tickCount": 100, "labelOverlap": false, "labels": false,
                                         "tickSize": {"condition": {"test": "datum.value == 1 || datum.value == 0.1 || datum.value == 0.01", "value": 7}, "value": 4}, "title": null}},
                          "y2": {"field": "hi"}}},
            {"data": {"name": "bfit"}, "transform": [{"filter": "datum.p == 'TR'"}], "mark": {"type": "line", "clip": true, "color": "#1ab0e8", "strokeWidth": 2, "interpolate": "monotone"},
             "encoding": {"x": {"field": "x", "type": "quantitative"}, "y": {"field": "y", "type": "quantitative"}}},
            {"data": {"name": "bpts"}, "transform": [{"filter": "datum.p == 'TR'"}], "mark": {"type": "point", "shape": "M-1,-1L1,1M-1,1L1,-1", "filled": false, "size": 70, "strokeWidth": 2, "color": "#1ab0e8", "opacity": 1},
             "encoding": {"x": {"field": "x", "type": "quantitative"}, "y": {"field": "y", "type": "quantitative"}}},
            {"data": {"values": [{}]}, "mark": {"type": "text", "text": "6.3 nM", "fontSize": 18.5, "color": "#1ab0e8", "align": "center", "baseline": "middle"},
             "encoding": {"x": {"datum": 0.636, "type": "quantitative"}, "y": {"datum": 0.0847, "type": "quantitative"}}}
          ]}
        ]},
        {"spacing": 5, "hconcat": [
          {"width": 171, "height": 171, "layer": [
            {"data": {"name": "bband"}, "transform": [{"filter": "datum.p == 'BL'"}], "mark": {"type": "area", "clip": true, "color": "#c0e3d3"},
             "encoding": {"x": {"field": "x", "type": "quantitative", "scale": {"domain": [-0.29, 3], "nice": false, "zero": false}, "axis": {"values": [0,0.5,1,1.5,2,2.5,3], "tickCount": 100, "labelOverlap": false, "labelExpr": "datum.value % 1 == 0 ? format(datum.value, 'd') : ''", "tickSize": 7, "title": null}},
                          "y": {"field": "lo", "type": "quantitative", "scale": {"type": "log", "domain": [0.01, 1], "nice": false},
                                "axis": {"values": [0.01,0.02,0.03,0.04,0.05,0.06,0.07,0.08,0.09,0.1,0.2,0.3,0.4,0.5,0.6,0.7,0.8,0.9,1], "tickCount": 100, "labelOverlap": false, "labelExpr": "datum.value == 1 ? '10⁰' : datum.value == 0.1 ? '10⁻¹' : datum.value == 0.01 ? '10⁻²' : ''",
                                         "tickSize": {"condition": {"test": "datum.value == 1 || datum.value == 0.1 || datum.value == 0.01", "value": 7}, "value": 4}, "title": null}},
                          "y2": {"field": "hi"}}},
            {"data": {"name": "bfit"}, "transform": [{"filter": "datum.p == 'BL'"}], "mark": {"type": "line", "clip": true, "color": "#0ea06c", "strokeWidth": 2, "interpolate": "monotone"},
             "encoding": {"x": {"field": "x", "type": "quantitative"}, "y": {"field": "y", "type": "quantitative"}}},
            {"data": {"name": "bpts"}, "transform": [{"filter": "datum.p == 'BL'"}], "mark": {"type": "point", "shape": "M-1,-1L1,1M-1,1L1,-1", "filled": false, "size": 70, "strokeWidth": 2, "color": "#0ea06c", "opacity": 1},
             "encoding": {"x": {"field": "x", "type": "quantitative"}, "y": {"field": "y", "type": "quantitative"}}},
            {"data": {"values": [{}]}, "mark": {"type": "text", "text": "20 nM", "fontSize": 18.5, "color": "#0ea06c", "align": "center", "baseline": "middle"},
             "encoding": {"x": {"datum": 2.346, "type": "quantitative"}, "y": {"datum": 0.114, "type": "quantitative"}}}
          ]},
          {"width": 171, "height": 171, "layer": [
            {"data": {"name": "bband"}, "transform": [{"filter": "datum.p == 'BR'"}], "mark": {"type": "area", "clip": true, "color": "#c0e3d3"},
             "encoding": {"x": {"field": "x", "type": "quantitative", "scale": {"domain": [-0.08, 0.9], "nice": false, "zero": false},
                                "axis": {"values": [0,0.1,0.2,0.3,0.4,0.5,0.6,0.7,0.8,0.9], "tickCount": 100, "labelOverlap": false, "labelExpr": "datum.value == 0 ? '0' : datum.value == 0.3 ? '0.3' : datum.value == 0.6 ? '0.6' : datum.value == 0.9 ? '0.9' : ''", "tickSize": 7, "title": null}},
                          "y": {"field": "lo", "type": "quantitative", "scale": {"type": "log", "domain": [0.01, 1], "nice": false},
                                "axis": {"values": [0.01,0.02,0.03,0.04,0.05,0.06,0.07,0.08,0.09,0.1,0.2,0.3,0.4,0.5,0.6,0.7,0.8,0.9,1], "tickCount": 100, "labelOverlap": false, "labels": false,
                                         "tickSize": {"condition": {"test": "datum.value == 1 || datum.value == 0.1 || datum.value == 0.01", "value": 7}, "value": 4}, "title": null}},
                          "y2": {"field": "hi"}}},
            {"data": {"name": "bfit"}, "transform": [{"filter": "datum.p == 'BR'"}], "mark": {"type": "line", "clip": true, "color": "#0ea06c", "strokeWidth": 2, "interpolate": "monotone"},
             "encoding": {"x": {"field": "x", "type": "quantitative"}, "y": {"field": "y", "type": "quantitative"}}},
            {"data": {"name": "bpts"}, "transform": [{"filter": "datum.p == 'BR'"}], "mark": {"type": "point", "shape": "M-1,-1L1,1M-1,1L1,-1", "filled": false, "size": 70, "strokeWidth": 2, "color": "#0ea06c", "opacity": 1},
             "encoding": {"x": {"field": "x", "type": "quantitative"}, "y": {"field": "y", "type": "quantitative"}}},
            {"data": {"values": [{}]}, "mark": {"type": "text", "text": "20 nM", "fontSize": 18.5, "color": "#0ea06c", "align": "center", "baseline": "middle"},
             "encoding": {"x": {"datum": 0.701, "type": "quantitative"}, "y": {"datum": 0.114, "type": "quantitative"}}}
          ]}
        ]}
      ]},
      {"width": 360, "height": 11, "layer": [
        {"data": {"values": [{}]}, "mark": {"type": "rule", "strokeWidth": 2, "color": "black"},
         "encoding": {"x": {"datum": 0, "type": "quantitative", "scale": {"domain": [0, 1], "nice": false}, "axis": null}, "x2": {"datum": 0.96},
                      "y": {"datum": 0.5, "type": "quantitative", "scale": {"domain": [0, 1], "nice": false}, "axis": null}}},
        {"data": {"values": [{}]}, "mark": {"type": "point", "shape": "M-1,-0.55L1,0L-1,0.55Z", "size": 400, "filled": true, "color": "black", "opacity": 1},
         "encoding": {"x": {"datum": 0.969, "type": "quantitative"}, "y": {"datum": 0.5, "type": "quantitative"}}},
        {"data": {"values": [{}]}, "mark": {"type": "text", "text": "660 nm pulse duration (s)", "fontSize": 18.5, "align": "center", "baseline": "middle"},
         "encoding": {"x": {"datum": 0.474, "type": "quantitative"}, "y": {"datum": -1.09, "type": "quantitative"}}}
      ]}
    ]}
  ]}
  ]}
 ]}
]
}
